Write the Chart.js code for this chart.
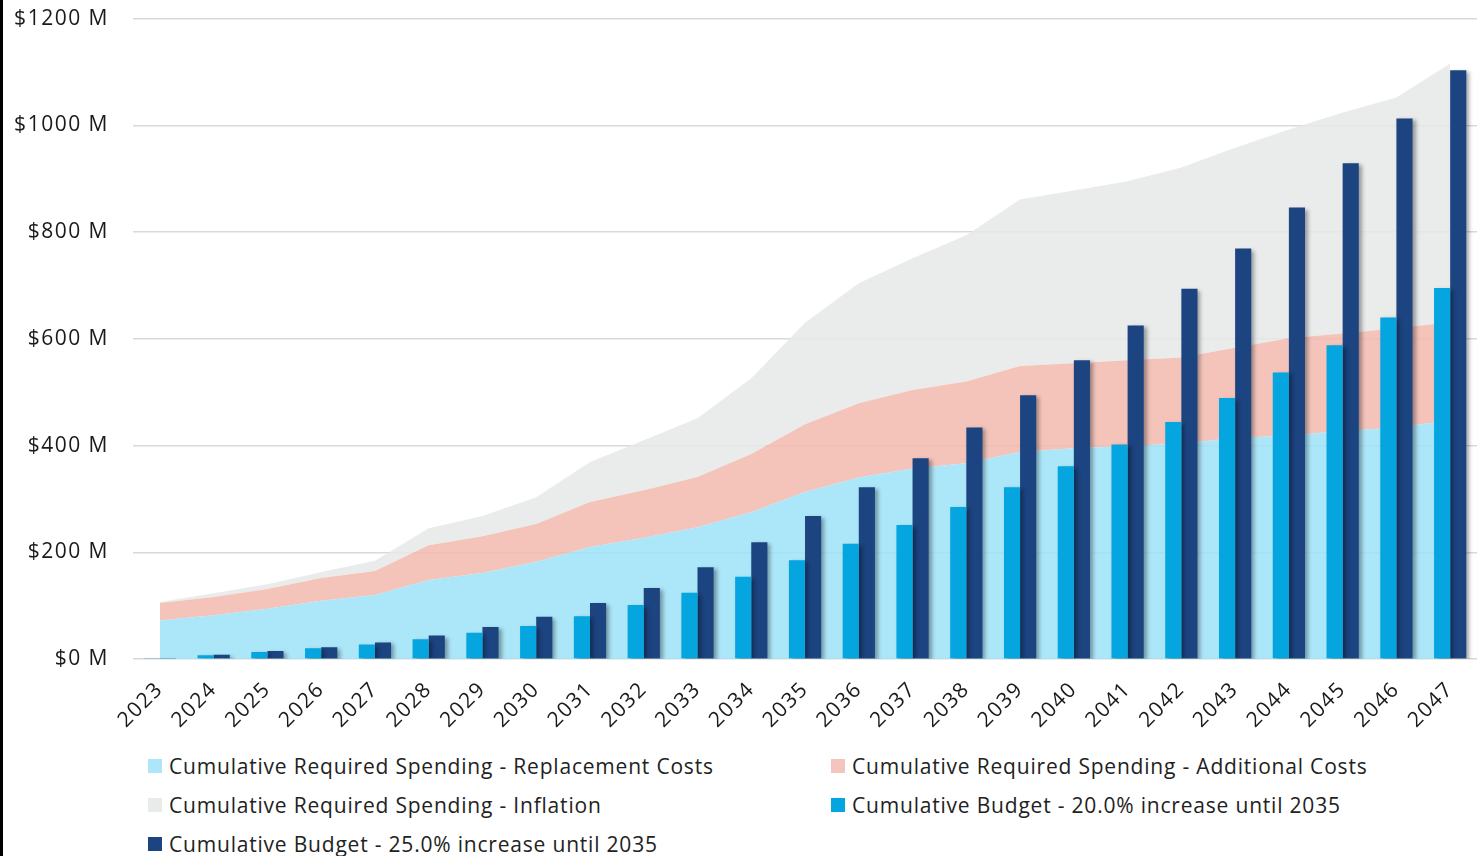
<!DOCTYPE html>
<html>
<head>
<meta charset="utf-8">
<script src="https://cdn.jsdelivr.net/npm/chart.js@4.4.1/dist/chart.umd.min.js"></script>
<style>
  body { margin: 0; width: 1478px; height: 856px; overflow: hidden; background: #fff; position: relative; font-family: "Open Sans", sans-serif; }
  #edge { position: absolute; left: 0; top: 0; width: 3px; height: 856px; background: #000; z-index: 2; }
  #wrap { position: absolute; left: 0; top: -18px; width: 1478px; height: 747px; }
  #legend { position: absolute; left: 148px; top: 752px; display: grid; grid-template-columns: 683px 600px; row-gap: 11px; }
  .item { display: flex; align-items: center; font-size: 21px; letter-spacing: 0.8px; color: #222; height: 28px; white-space: nowrap; }
  .box { width: 14px; height: 14px; margin-right: 7px; flex: none; }
</style>
</head>
<body>
<div id="edge"></div>
<div id="wrap"><canvas id="c"></canvas></div>
<div id="legend"></div>
<script>
// years on the x axis
var years = [2023, 2024, 2025, 2026, 2027, 2028, 2029, 2030, 2031, 2032, 2033, 2034, 2035,
             2036, 2037, 2038, 2039, 2040, 2041, 2042, 2043, 2044, 2045, 2046, 2047];

// stacked areas ($ M), each one sits on the previous
var replacement = [72, 82, 94, 109, 120, 148, 161, 182, 210, 227, 247, 275, 313,
                   340, 357, 367, 388, 395, 399, 404, 414, 419, 427, 434, 447];
var additional  = [33, 34, 37, 43, 45, 65, 69, 71, 84, 89, 94, 109, 127,
                   139, 147, 153, 161, 159, 161, 161, 169, 182, 183, 186, 184];
var inflation   = [2, 7, 9, 11, 19, 32, 38, 50, 75, 94, 110, 142, 190,
                   225, 247, 274, 312, 324, 335, 356, 375, 391, 414, 432, 485];

// budget bars ($ M)
var budget20 = [2, 7, 13, 20, 27, 37, 49, 62, 80, 101, 124, 154, 185,
                216, 251, 285, 322, 361, 402, 444, 489, 537, 588, 640, 695];
var budget25 = [2, 8, 15, 22, 31, 44, 60, 79, 105, 133, 172, 219, 268,
                322, 376, 434, 494, 560, 625, 694, 769, 846, 929, 1013, 1103];

var yTicks = [0, 200, 400, 600, 800, 1000, 1200];

var labels = [
  "Cumulative Required Spending - Replacement Costs",
  "Cumulative Required Spending - Additional Costs",
  "Cumulative Required Spending - Inflation",
  "Cumulative Budget - 20.0% increase until 2035",
  "Cumulative Budget - 25.0% increase until 2035"
];
var colors = ["#ADE6F9", "#F4C5BC", "#E9EAEA", "#05A6DF", "#1C4480"];
var fills  = ["rgba(158,226,248,0.85)", "rgba(242,186,175,0.85)", "rgba(230,231,231,0.85)"];

function area(i, data, fill) {
  return {
    type: 'line', label: labels[i], data: data, stack: 'req', order: 1,
    fill: fill, backgroundColor: fills[i], borderWidth: 0, pointRadius: 0, tension: 0
  };
}
function bars(i, data, stack) {
  return {
    type: 'bar', label: labels[i], data: data, stack: stack, order: 0,
    backgroundColor: colors[i], borderWidth: 0, barPercentage: 1, categoryPercentage: 0.6
  };
}

// soft drop shadow under the bars, like the original
var barShadow = {
  id: 'barShadow',
  beforeDatasetDraw(chart, args) {
    if (args.meta.type !== 'bar') return;
    var ctx = chart.ctx;
    ctx.save();
    ctx.shadowColor = 'rgba(0,0,0,0.35)';
    ctx.shadowBlur = 4;
    ctx.shadowOffsetX = 3;
    ctx.shadowOffsetY = 2;
  },
  afterDatasetDraw(chart, args) {
    if (args.meta.type !== 'bar') return;
    chart.ctx.restore();
  }
};

// the source font is a bit wider, so space the axis labels out
var wideText = {
  id: 'wideText',
  beforeDraw(chart) { chart.ctx.letterSpacing = '1.5px'; },
  afterDraw(chart) { chart.ctx.letterSpacing = '0px'; }
};

var ctx = document.getElementById('c').getContext('2d');
var chart = new Chart(ctx, {
  data: {
    labels: years,
    datasets: [
      area(0, replacement, 'origin'),
      area(1, additional, '-1'),
      area(2, inflation, '-1'),
      bars(3, budget20, 'b20'),
      bars(4, budget25, 'b25')
    ]
  },
  options: {
    responsive: true,
    maintainAspectRatio: false,
    animation: false,
    layout: { padding: 0 },
    plugins: { legend: { display: false }, tooltip: { enabled: false } },
    scales: {
      x: {
        offset: true,
        afterFit: function (s) { s.height = 70; },
        grid: { display: false },
        border: { display: false },
        ticks: { color: '#1a1a1a', font: { family: 'Open Sans', size: 21 }, maxRotation: 45, minRotation: 45, padding: 10 }
      },
      y: {
        stacked: true,
        min: 0, max: 1200,
        afterFit: function (s) { s.width = 133; },
        afterBuildTicks: function (s) { s.ticks = yTicks.map(v => ({ value: v })); },
        grid: { color: '#D9D9D9', lineWidth: 1.5, drawTicks: false },
        border: { display: false },
        ticks: { color: '#1a1a1a', font: { family: 'Open Sans', size: 21 }, padding: 24,
                 callback: v => '$' + v + ' M' }
      }
    }
  },
  plugins: [barShadow, wideText]
});

// legend laid out in two columns as in the source
var leg = document.getElementById('legend');
labels.forEach(function (t, i) {
  var d = document.createElement('div');
  d.className = 'item';
  d.innerHTML = '<span class="box" style="background:' + colors[i] + '"></span>' + t;
  leg.appendChild(d);
});
</script>
</body>
</html>
